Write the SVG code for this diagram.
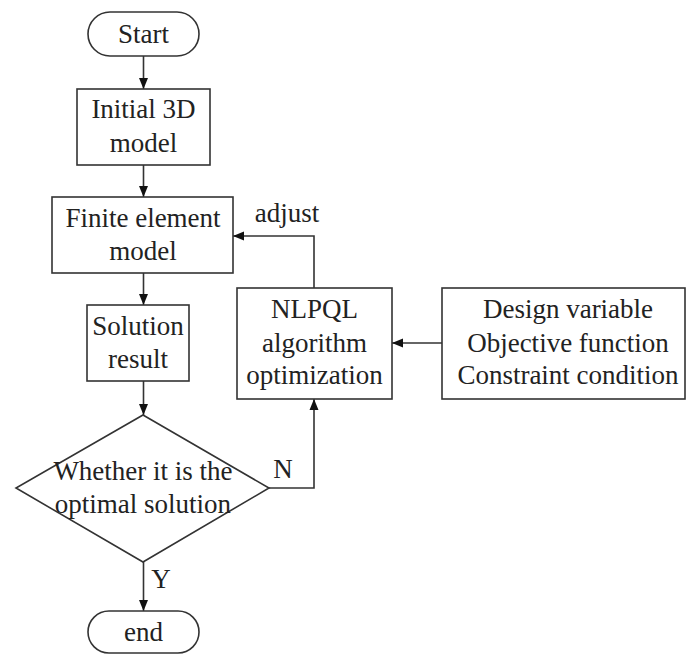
<svg xmlns="http://www.w3.org/2000/svg" width="686" height="655" viewBox="0 0 686 655">
<style>
.box{fill:#fff;stroke:#333;stroke-width:1.6}
.t{font-family:'Liberation Serif','Times New Roman','DejaVu Serif',serif;font-size:27px;fill:#222;text-anchor:middle}
.c{fill:none;stroke:#333;stroke-width:1.6}
</style>
<defs>
<marker id="ah" markerUnits="userSpaceOnUse" markerWidth="12" markerHeight="10" refX="11" refY="5" orient="auto">
<path d="M0,0.5 L11,5 L0,9.5 z" fill="#111"/>
</marker>
</defs>
<rect width="686" height="655" fill="#fff"/>
<g id="connectors">
<line class="c" x1="143.5" y1="56" x2="143.5" y2="89" marker-end="url(#ah)"/>
<line class="c" x1="143.5" y1="165" x2="143.5" y2="197" marker-end="url(#ah)"/>
<line class="c" x1="143.5" y1="273" x2="143.5" y2="305" marker-end="url(#ah)"/>
<line class="c" x1="143.5" y1="381" x2="143.5" y2="415" marker-end="url(#ah)"/>
<line class="c" x1="143.5" y1="562" x2="143.5" y2="611" marker-end="url(#ah)"/>
<polyline class="c" points="269,488 314,488 314,399" marker-end="url(#ah)"/>
<polyline class="c" points="314,288 314,236 233,236" marker-end="url(#ah)"/>
<line class="c" x1="442" y1="343" x2="392" y2="343" marker-end="url(#ah)"/>
<text class="t" x="287" y="222" font-family="Liberation Serif, serif">adjust</text>
<text class="t" x="283" y="478" font-family="Liberation Serif, serif">N</text>
<text class="t" x="161" y="588" font-family="Liberation Serif, serif">Y</text>
</g>
<g id="start">
<rect class="box" x="88" y="12" width="111" height="44" rx="22"/>
<text class="t" x="143.5" y="43">Start</text>
</g>
<g id="initial">
<rect class="box" x="77" y="89" width="133" height="76"/>
<text class="t" x="143.5" y="118">Initial 3D</text>
<text class="t" x="143.5" y="152">model</text>
</g>
<g id="fem">
<rect class="box" x="52" y="197" width="181" height="76"/>
<text class="t" x="143" y="227">Finite element</text>
<text class="t" x="143" y="260">model</text>
</g>
<g id="solution">
<rect class="box" x="87" y="305" width="102" height="76"/>
<text class="t" x="138" y="335">Solution</text>
<text class="t" x="138" y="368">result</text>
</g>
<g id="decision">
<polygon class="box" points="143,415 269,488 143,562 16,488"/>
<text class="t" x="143" y="480">Whether it is the</text>
<text class="t" x="143" y="513">optimal solution</text>
</g>
<g id="end">
<rect class="box" x="88" y="611" width="111" height="42" rx="21"/>
<text class="t" x="143.5" y="641">end</text>
</g>
<g id="nlpql">
<rect class="box" x="237" y="288" width="155" height="111"/>
<text class="t" x="314.5" y="318">NLPQL</text>
<text class="t" x="314.5" y="352">algorithm</text>
<text class="t" x="314.5" y="384">optimization</text>
</g>
<g id="design">
<rect class="box" x="442" y="288" width="243" height="111"/>
<text class="t" x="568" y="318">Design variable</text>
<text class="t" x="568" y="352">Objective function</text>
<text class="t" x="568" y="384">Constraint condition</text>
</g>
</svg>
